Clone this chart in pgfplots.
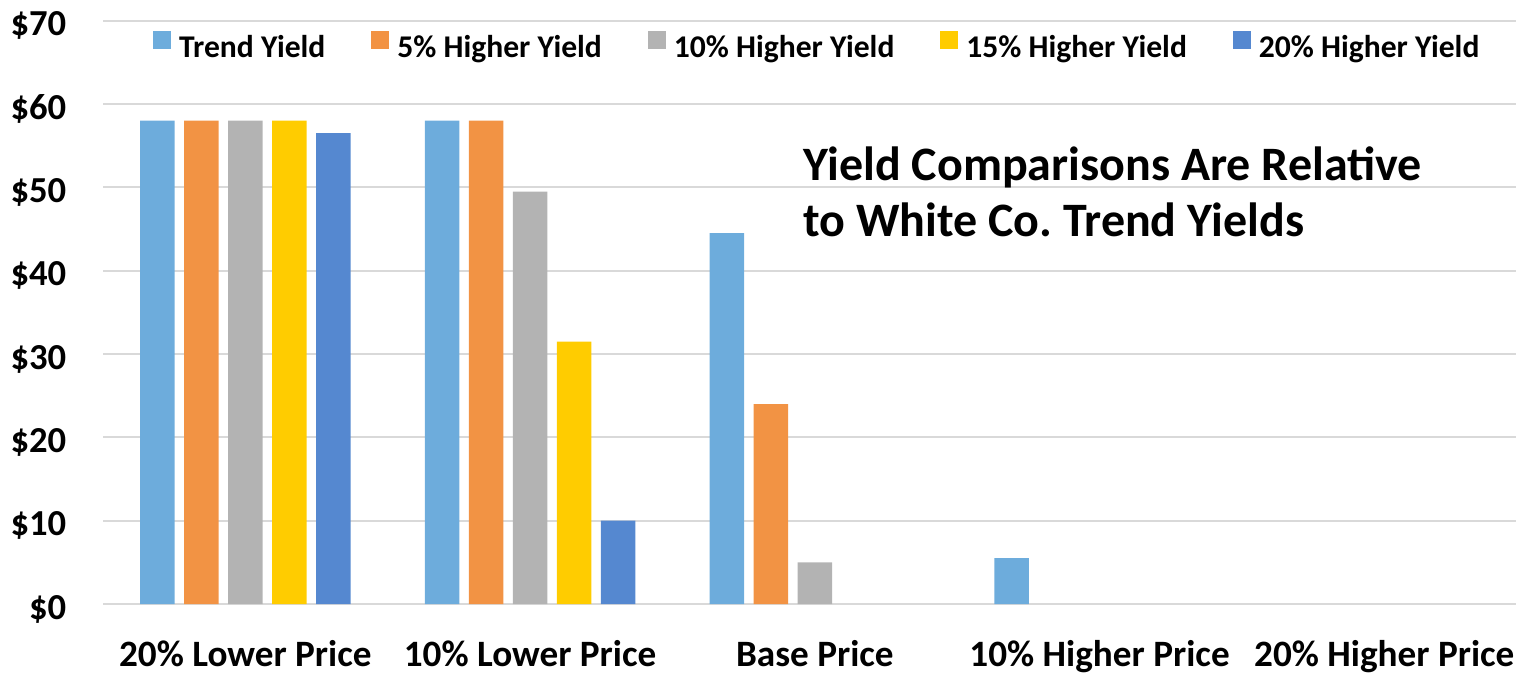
\documentclass[border=0pt]{standalone}
\usepackage{fontspec}
\setmainfont{Carlito}
\usepackage{pgfplots}
\pgfplotsset{compat=1.18}
\definecolor{cTrend}{HTML}{6DACDC}
\definecolor{cFive}{HTML}{F29344}
\definecolor{cTen}{HTML}{B3B3B3}
\definecolor{cFifteen}{HTML}{FFCC00}
\definecolor{cTwenty}{HTML}{5588D0}
\definecolor{gridgray}{HTML}{D9D9D9}
\begin{document}
\frenchspacing
\begin{tikzpicture}
\begin{axis}[
  scale only axis,
  width=711.75pt, height=291.65pt,
  ybar=4.75pt, bar width=17.25pt,
  xmin=-0.5, xmax=4.5, ymin=0, ymax=70,
  xtick={0,1,2,3,4},
  xticklabels={20\% Lower Price, 10\% Lower Price, Base Price, 10\% Higher Price, 20\% Higher Price},
  ytick={0,10,20,30,40,50,60,70},
  yticklabels={\$0,\$10,\$20,\$30,\$40,\$50,\$60,\$70},
  axis line style={draw=none},
  major tick length=0pt,
  tick style={draw=none},
  ymajorgrids, grid style={color=gridgray, line width=1pt},
  xticklabel style={font=\fontsize{18.6}{18.6}\selectfont\bfseries, anchor=base, inner sep=0pt, yshift=-31pt},
  yticklabel style={font=\fontsize{18.3}{18.3}\selectfont\bfseries, anchor=east, inner sep=0pt, xshift=-18.2pt, yshift=-2.5pt},
  legend columns=5,
  legend style={at={(0.501,0.9566)}, anchor=center, draw=none, fill=none,
    font=\fontsize{15.8}{15.8}\selectfont\bfseries,
    /tikz/every even column/.append style={column sep=23pt},
    /tikz/every odd column/.append style={column sep=4pt},
    nodes={inner sep=0pt}},
  legend image code/.code={\fill[#1] (0pt,-0.5pt) rectangle (9pt,8.5pt);},
  every axis plot/.append style={draw=none},
  clip=false,
]
\addplot[fill=cTrend] coordinates {(0,58) (1,58) (2,44.5) (3,5.5)};
\addplot[fill=cFive] coordinates {(0,58) (1,58) (2,24)};
\addplot[fill=cTen] coordinates {(0,58) (1,49.5) (2,5)};
\addplot[fill=cFifteen] coordinates {(0,58) (1,31.5)};
\addplot[fill=cTwenty] coordinates {(0,56.5) (1,10)};
\legend{Trend Yield, 5\% Higher Yield, 10\% Higher Yield, 15\% Higher Yield, 20\% Higher Yield}
\node[anchor=base west, inner sep=0pt, font=\fontsize{24}{24}\selectfont\bfseries] at (axis cs:1.958,50.8) {Yield Comparisons Are Relative};
\node[anchor=base west, inner sep=0pt, font=\fontsize{24}{24}\selectfont\bfseries] at (axis cs:1.958,44.16) {to White Co. Trend Yields};
\end{axis}
\pgfresetboundingbox
\path[use as bounding box] ([shift={(-51.5pt,-34.5pt)}]current axis.south west) rectangle ([shift={(-5.35pt,10.35pt)}]current axis.north east);
\end{tikzpicture}
\end{document}
